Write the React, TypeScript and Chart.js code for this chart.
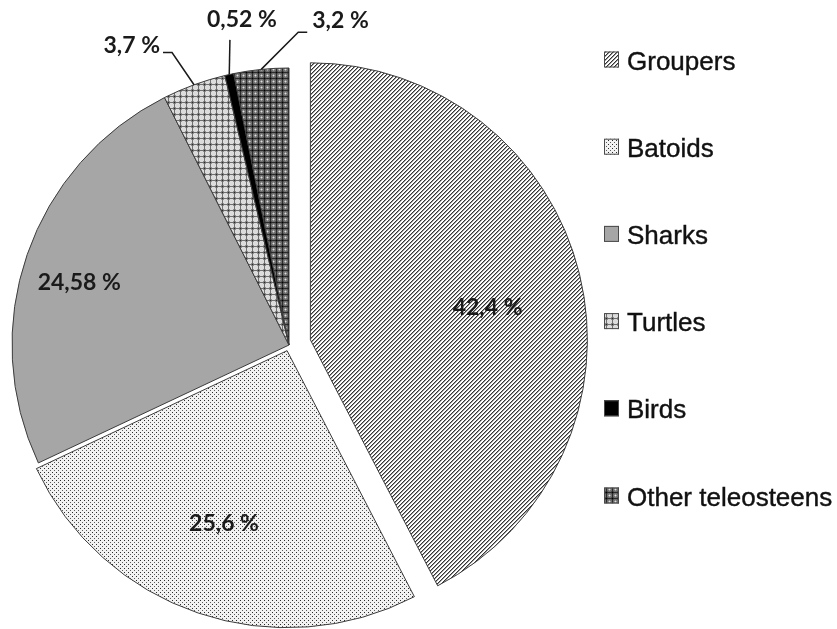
import React, { useEffect, useRef } from "react";
import { Chart, registerables } from "chart.js";

Chart.register(...registerables);

// Composition of the catch by group (% of individuals)
const categories = ["Groupers", "Batoids", "Sharks", "Turtles", "Birds", "Other teleosteens"];
const shares = [42.4, 25.6, 24.58, 3.7, 0.52, 3.2];

// How far each slice is pulled out of the pie (px)
const explode = [22, 6, 0, 0, 0, 0];

// Label placement: inside labels sit on the bisector at a fraction of the radius,
// outside labels hang on a leader line that starts at the rim.
const labelInside = [true, true, true, false, false, false];
const labelRadius = [0.65, 0.665, 0.79, 1.137, 1.122, 1.13];
const labelTurn = [3.5, 1.3, -2.5, -1.75, 1.5, 7.45]; // degrees added to the bisector
const leaderTail = [0, 0, 0, -9, 0, 9];
const textShiftX = [0, 0, 0, -3, 12, 5];
const textShiftY = [0, 0, 0, -7, -20, -12];
const textAlignOf: CanvasTextAlign[] = ["center", "center", "center", "right", "center", "left"];

// Legend column
const legendX = 604;
const legendTop = 69.5;
const legendStep = 87.2;

const formatShare = (v: number) => String(v).replace(".", ",") + " %";

function makePattern(
  ctx: CanvasRenderingContext2D,
  size: number,
  paint: (x: number, y: number) => string
): CanvasPattern | string {
  const tile = document.createElement("canvas");
  tile.width = size;
  tile.height = size;
  const t = tile.getContext("2d")!;
  for (let y = 0; y < size; y++) {
    for (let x = 0; x < size; x++) {
      t.fillStyle = paint(x, y);
      t.fillRect(x, y, 1, 1);
    }
  }
  return ctx.createPattern(tile, "repeat") || "#999";
}

function buildFills(ctx: CanvasRenderingContext2D) {
  // forward diagonal hatch
  const groupers = makePattern(ctx, 4, (x, y) => {
    const k = (x + y) % 4;
    return k === 0 ? "#333333" : k === 1 ? "#9a9a9a" : "#ffffff";
  });
  // staggered stipple
  const batoids = makePattern(ctx, 4, (x, y) => {
    if (x === 0 && y === 0) return "#2a2a2a";
    if (x === 2 && y === 2) return "#5a5a5a";
    return "#f2f2f2";
  });
  const sharks = "#a6a6a6";
  // grey grid with open cells
  const turtles = makePattern(ctx, 6, (x, y) => {
    const gx = x % 6 === 0;
    const gy = y % 6 === 0;
    if (gx && gy) return "#2a2a2a";
    if (gx || gy) return "#6e6e6e";
    if ((x === 1 || x === 5) && (y === 1 || y === 5)) return "#909090";
    return "#dcdcdc";
  });
  const birds = "#000000";
  // dark grid with light centres
  const other = makePattern(ctx, 6, (x, y) => {
    const gx = x % 6 === 0;
    const gy = y % 6 === 0;
    if (gx && gy) return "#000000";
    if (gx || gy) return "#2a2a2a";
    if (x === 3 && y === 3) return "#e0e0e0";
    if ((x === 3 && (y === 2 || y === 4)) || (y === 3 && (x === 2 || x === 4))) return "#a0a0a0";
    if ((x === 1 || x === 5) && (y === 1 || y === 5)) return "#505050";
    return "#707070";
  });
  return [groupers, batoids, sharks, turtles, birds, other];
}

const explodePlugin = {
  id: "explodeSlices",
  afterUpdate(chart: any) {
    const arcs = chart.getDatasetMeta(0).data;
    arcs.forEach((arc: any, i: number) => {
      const d = explode[i] || 0;
      if (!d) return;
      const mid = (arc.startAngle + arc.endAngle) / 2;
      arc.x += Math.cos(mid) * d;
      arc.y += Math.sin(mid) * d;
    });
  },
};

const labelsPlugin = {
  id: "sliceLabels",
  afterDatasetsDraw(chart: any) {
    const ctx: CanvasRenderingContext2D = chart.ctx;
    const arcs = chart.getDatasetMeta(0).data;
    ctx.save();
    ctx.font = "bold 23px Lato, 'Liberation Sans', sans-serif";
    ctx.fillStyle = "#1a1a1a";
    ctx.strokeStyle = "#1a1a1a";
    ctx.lineWidth = 1.5;
    ctx.textBaseline = "middle";
    arcs.forEach((arc: any, i: number) => {
      const { x, y, startAngle, endAngle, outerRadius } = arc;
      const mid = (startAngle + endAngle) / 2;
      const text = formatShare(shares[i]);
      const a = mid + (labelTurn[i] * Math.PI) / 180;
      const px = x + Math.cos(a) * outerRadius * labelRadius[i];
      const py = y + Math.sin(a) * outerRadius * labelRadius[i];
      if (labelInside[i]) {
        ctx.textAlign = "center";
        ctx.fillText(text, px, py);
        return;
      }
      const ex = x + Math.cos(mid) * outerRadius;
      const ey = y + Math.sin(mid) * outerRadius;
      const tx = px + leaderTail[i];
      ctx.beginPath();
      ctx.moveTo(ex, ey);
      ctx.lineTo(px, py);
      ctx.lineTo(tx, py);
      ctx.stroke();
      ctx.textAlign = textAlignOf[i];
      ctx.fillText(text, tx + textShiftX[i], py + textShiftY[i]);
    });
    ctx.restore();
  },
};

const legendPlugin = {
  id: "sideLegend",
  afterDraw(chart: any) {
    const ctx: CanvasRenderingContext2D = chart.ctx;
    const fills = chart.data.datasets[0].backgroundColor;
    ctx.save();
    ctx.font = "26px 'Liberation Sans', Arial, sans-serif";
    ctx.textAlign = "left";
    ctx.textBaseline = "alphabetic";
    chart.data.labels.forEach((name: string, i: number) => {
      const base = legendTop + legendStep * i;
      ctx.fillStyle = fills[i];
      ctx.fillRect(legendX, base - 18, 15, 16);
      ctx.strokeStyle = "#4a4a4a";
      ctx.lineWidth = 1;
      ctx.strokeRect(legendX + 0.5, base - 17.5, 14, 15);
      ctx.fillStyle = "#111111";
      ctx.strokeStyle = "#111111";
      ctx.lineWidth = 0.4;
      ctx.fillText(name, legendX + 23, base);
      ctx.strokeText(name, legendX + 23, base);
    });
    ctx.restore();
  },
};

export default function App() {
  const ref = useRef<HTMLCanvasElement>(null);

  useEffect(() => {
    const canvas = ref.current!;
    const ctx = canvas.getContext("2d")!;
    const fills = buildFills(ctx);
    let alive = true;
    const chart = new Chart(canvas, {
      type: "pie",
      data: {
        labels: categories,
        datasets: [
          {
            data: shares,
            backgroundColor: fills as any,
            borderColor: "#3c3c3c",
            borderWidth: 1,
            radius: 277,
          } as any,
        ],
      },
      options: {
        animation: false,
        responsive: false,
        events: [],
        layout: { padding: { left: 0, right: 259, top: 61, bottom: 0 } },
        plugins: {
          legend: { display: false },
          tooltip: { enabled: false },
          title: { display: false },
        },
      } as any,
      plugins: [explodePlugin, labelsPlugin, legendPlugin],
    });
    if ((document as any).fonts?.ready) {
      (document as any).fonts.ready.then(() => {
        if (alive) chart.draw();
      });
    }
    return () => {
      alive = false;
      chart.destroy();
    };
  }, []);

  return (
    <div
      style={{
        position: "absolute",
        left: 0,
        top: 0,
        width: 837,
        height: 629,
        background: "#ffffff",
      }}
    >
      <canvas ref={ref} width={837} height={629} style={{ display: "block" }} />
    </div>
  );
}
